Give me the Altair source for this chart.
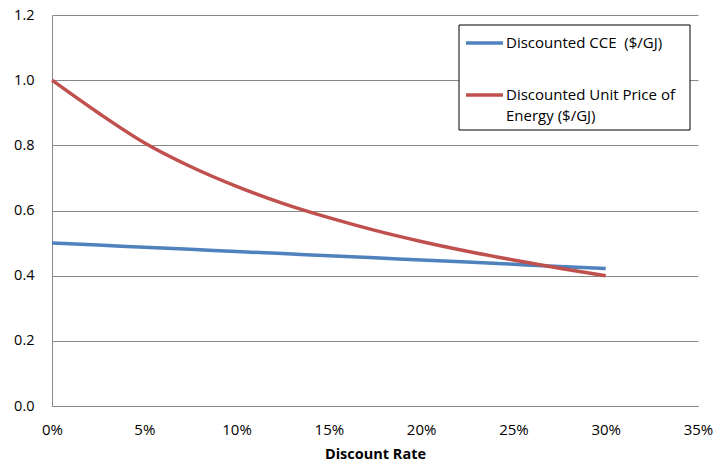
import altair as alt
import pandas as pd

# Discount rates and the two discounted series
rates = [0.0, 0.025, 0.05, 0.075, 0.10, 0.125, 0.15, 0.175, 0.20, 0.225, 0.25, 0.275, 0.30]
cce = [0.500, 0.494, 0.487, 0.481, 0.474, 0.468, 0.461, 0.455, 0.448, 0.442, 0.435, 0.428, 0.422]
unit_price = [1.000, 0.900, 0.808, 0.735, 0.674, 0.622, 0.578, 0.539, 0.505, 0.475, 0.448, 0.423, 0.400]

series_names = ["Discounted CCE\u00a0 ($/GJ)", "Discounted Unit Price of Energy ($/GJ)"]
series_colors = ["#4F81BD", "#C0504D"]

x_ticks = [0.0, 0.05, 0.10, 0.15, 0.20, 0.25, 0.30, 0.35]
y_ticks = [0.0, 0.2, 0.4, 0.6, 0.8, 1.0, 1.2]

df = pd.DataFrame({
    "rate": rates * 2,
    "value": cce + unit_price,
    "series": [series_names[0]] * len(rates) + [series_names[1]] * len(rates),
})

FONT = "Open Sans"
W, H = 646, 391

lines = alt.Chart(df).mark_line(strokeWidth=3.5, interpolate="monotone").encode(
    x=alt.X("rate:Q",
            scale=alt.Scale(domain=[0, 0.35], nice=False),
            axis=alt.Axis(values=x_ticks, format=".0%", title="Discount Rate",
                          grid=False, ticks=False, domainColor="#888888",
                          labelFlush=False, labelOverlap=False,
                          labelPadding=16, titlePadding=10, labelFontSize=15,
                          titleFontSize=14.5, titleFontWeight="bold",
                          labelColor="#000000", titleColor="#000000",
                          labelFont=FONT, titleFont=FONT)),
    y=alt.Y("value:Q",
            scale=alt.Scale(domain=[0, 1.2], nice=False),
            axis=alt.Axis(values=y_ticks, format=".1f", title=None,
                          grid=True, gridColor="#888888", gridWidth=1,
                          ticks=False, domainColor="#888888",
                          labelFlush=False, labelOverlap=False,
                          labelPadding=18, labelFontSize=14.5,
                          labelColor="#000000", labelFont=FONT)),
    color=alt.Color("series:N",
                    scale=alt.Scale(domain=series_names, range=series_colors),
                    legend=None),
    order=alt.Order("rate:Q"),
)

one = alt.Data(values=[{"k": 0}])

legend_box = alt.Chart(one).mark_rect(fill="white", stroke="black", strokeWidth=1).encode(
    x=alt.value(407), x2=alt.value(638), y=alt.value(10), y2=alt.value(115))

blue_key = alt.Chart(one).mark_rule(color=series_colors[0], strokeWidth=3.5).encode(
    x=alt.value(414), x2=alt.value(451), y=alt.value(28))
red_key = alt.Chart(one).mark_rule(color=series_colors[1], strokeWidth=3.5).encode(
    x=alt.value(414), x2=alt.value(451), y=alt.value(80))

blue_text = alt.Chart(one).mark_text(align="left", baseline="middle", font=FONT,
                                     fontSize=15, color="black").encode(
    x=alt.value(454), y=alt.value(28), text=alt.value(series_names[0]))
red_text = alt.Chart(one).mark_text(align="left", baseline="middle", font=FONT,
                                    fontSize=15, color="black", lineHeight=21).encode(
    x=alt.value(454), y=alt.value(80),
    text=alt.value(["Discounted Unit Price of", "Energy ($/GJ)"]))

chart = alt.layer(lines, legend_box, blue_key, red_key, blue_text, red_text).properties(
    width=W, height=H,
    padding={"left": 52, "top": 15, "right": 20, "bottom": 57},
    autosize=alt.AutoSizeParams(type="none"),
    background="white",
).configure_view(stroke=None)

chart.save("out.html", embed_options={"renderer": "svg", "actions": False})
